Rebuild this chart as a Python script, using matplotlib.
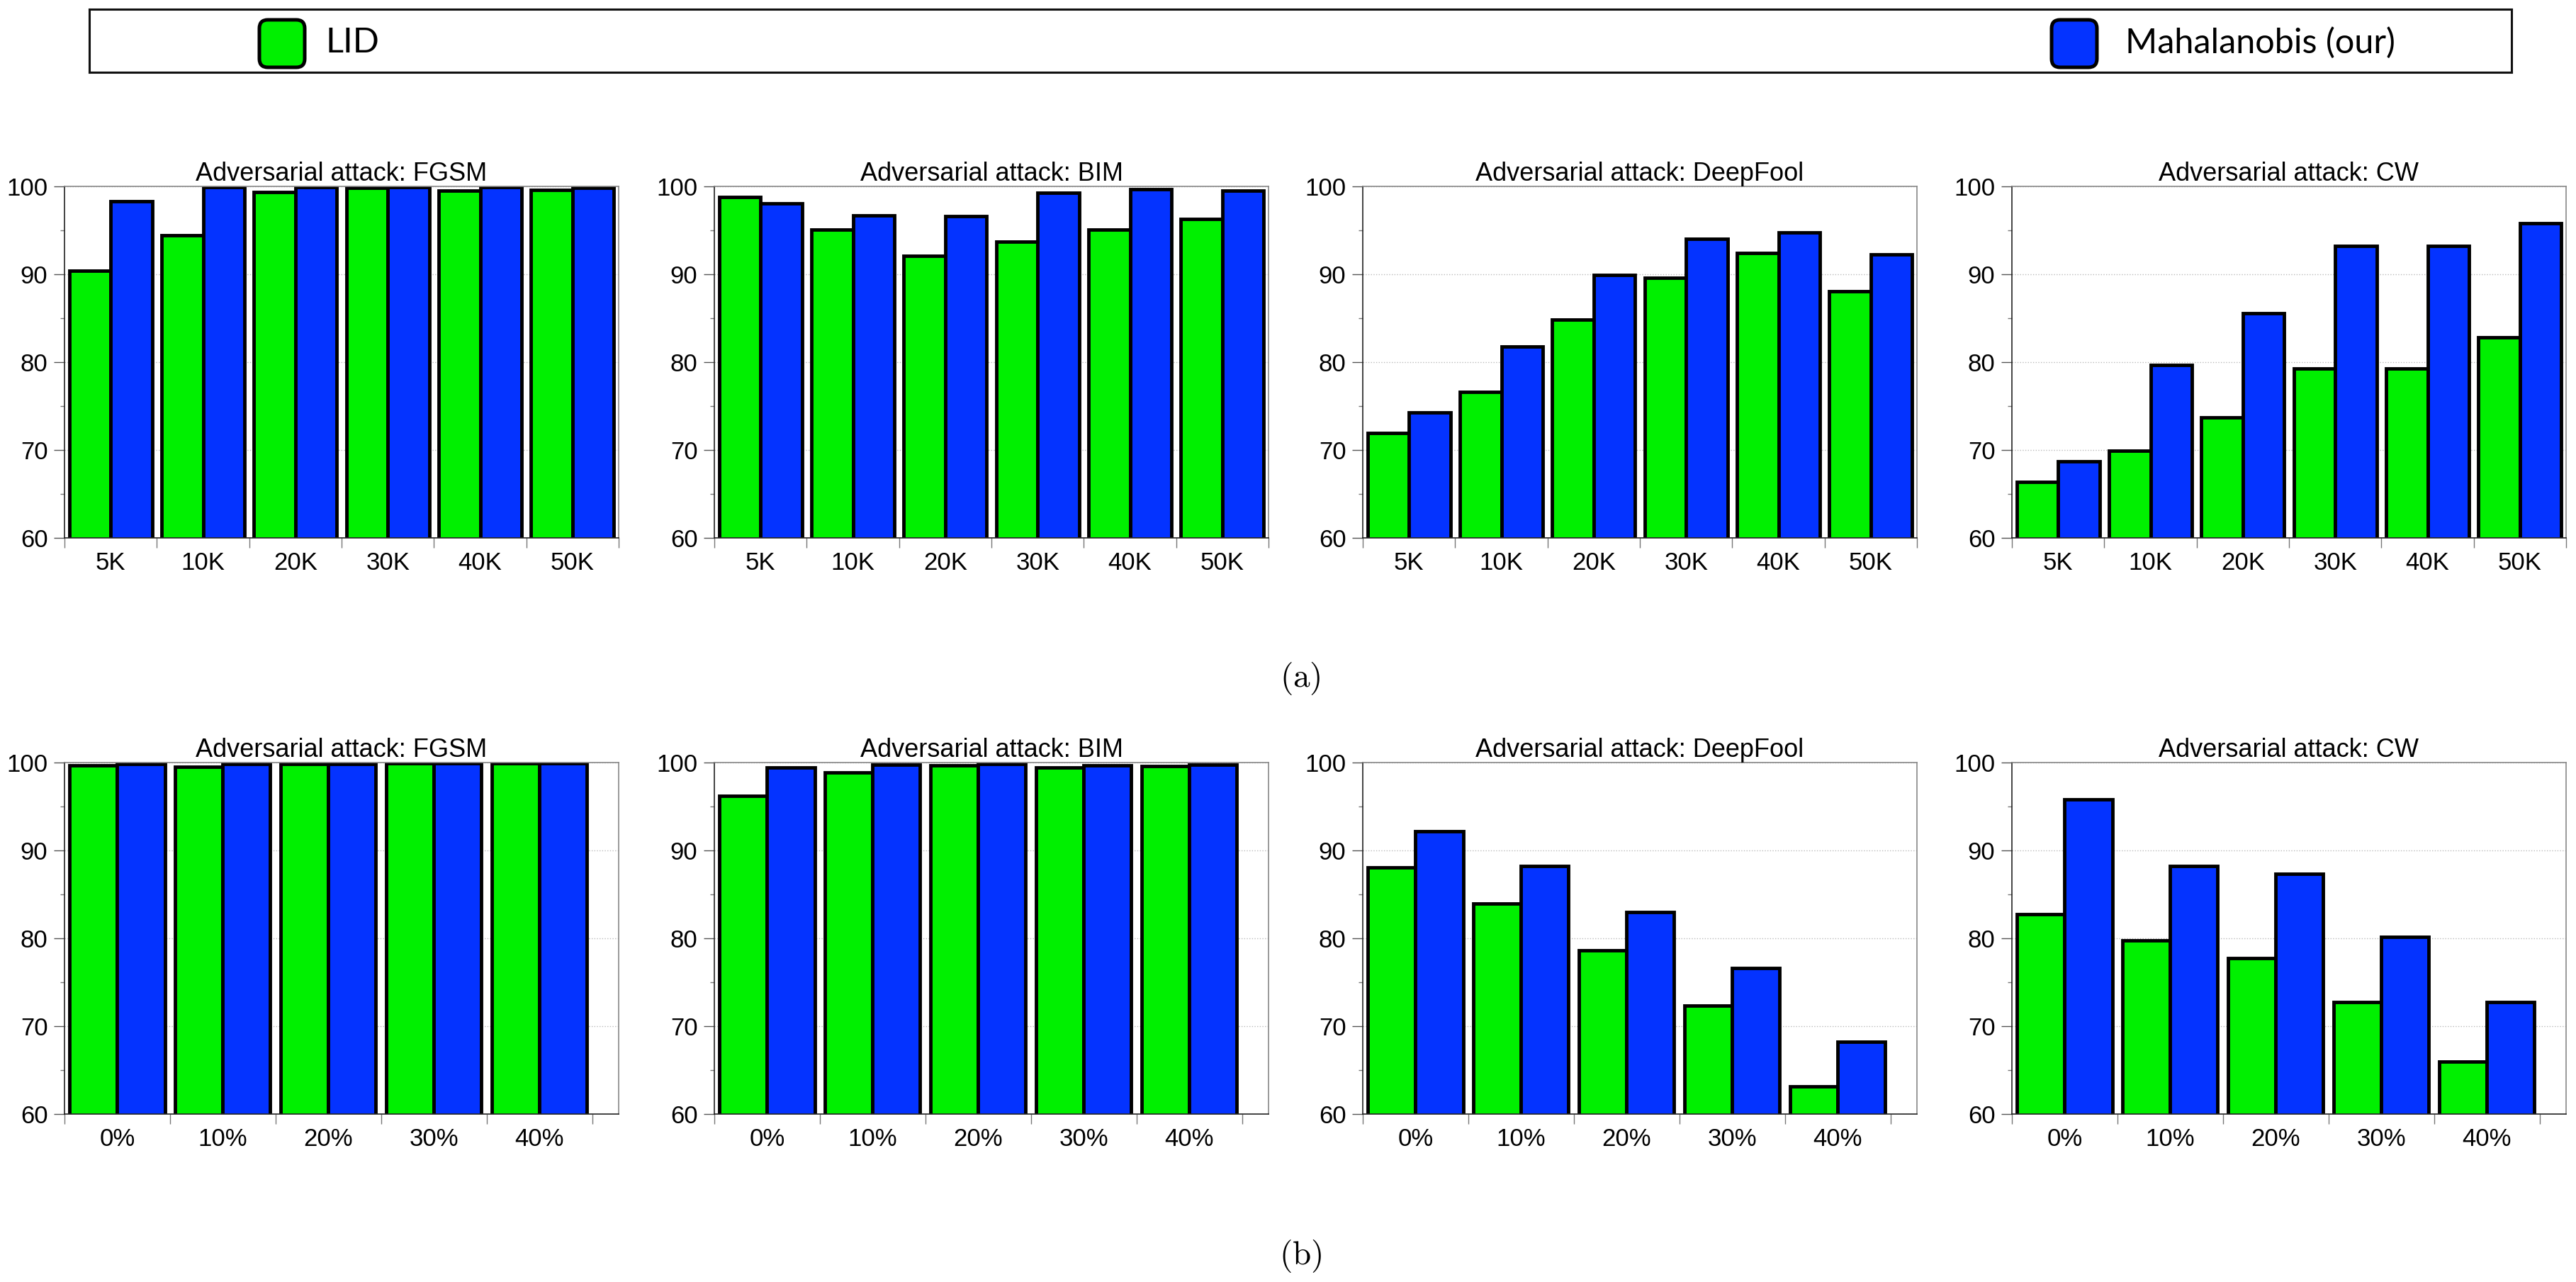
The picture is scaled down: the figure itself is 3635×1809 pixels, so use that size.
import numpy as np
import matplotlib
matplotlib.use('Agg')
import matplotlib.pyplot as plt
from matplotlib.patches import FancyBboxPatch

plt.rcParams['font.family'] = ['Liberation Sans', 'DejaVu Sans']
plt.rcParams['mathtext.fontset'] = 'cm'

# data
attacks = ['FGSM', 'BIM', 'DeepFool', 'CW']
series = ['LID', 'Mahalanobis (our)']
colors = ['#00f000', '#0433ff']

sizes = ['5K', '10K', '20K', '30K', '40K', '50K']
noise = ['0%', '10%', '20%', '30%', '40%']

# (a) varying training size, one row per attack
lid_size = [[90.4, 94.4, 99.35, 99.8, 99.5, 99.6],
            [98.8, 95.1, 92.1, 93.7, 95.1, 96.3],
            [71.9, 76.6, 84.8, 89.6, 92.4, 88.1],
            [66.4, 69.95, 73.75, 79.3, 79.3, 82.8]]
maha_size = [[98.3, 99.9, 99.9, 99.9, 99.9, 99.85],
             [98.1, 96.7, 96.65, 99.3, 99.7, 99.5],
             [74.3, 81.8, 89.9, 94.05, 94.75, 92.25],
             [68.7, 79.65, 85.6, 93.2, 93.2, 95.8]]

# (b) varying noise level
lid_noise = [[99.65, 99.55, 99.85, 99.9, 99.9],
             [96.25, 98.85, 99.7, 99.4, 99.6],
             [88.1, 83.95, 78.65, 72.3, 63.15],
             [82.75, 79.75, 77.75, 72.75, 66.0]]
maha_noise = [[99.85, 99.85, 99.85, 99.9, 99.9],
              [99.45, 99.75, 99.8, 99.7, 99.75],
              [92.2, 88.2, 82.95, 76.6, 68.2],
              [95.8, 88.2, 87.3, 80.15, 72.75]]

W, H = 3635, 1809
fig = plt.figure(figsize=(W / 100, H / 100), dpi=100)
fig.set_facecolor('white')

lefts = [91, 1008, 1923, 2839]
ax_w = 782
rows = [(263, 759, sizes, lid_size, maha_size, 0.0),
        (1076, 1572, noise, lid_noise, maha_noise, 0.25)]

bw = 0.45
for top, bot, labels, lid, maha, extra in rows:
    for k, att in enumerate(attacks):
        ax = fig.add_axes([lefts[k] / W, 1 - bot / H, ax_w / W, (bot - top) / H])
        n = len(labels)
        x = np.arange(n) + 0.5
        ax.bar(x - bw / 2, lid[k], bw, color=colors[0], edgecolor='black', linewidth=3.5)
        ax.bar(x + bw / 2, maha[k], bw, color=colors[1], edgecolor='black', linewidth=3.5)
        ax.set_xlim(0, n + extra)
        ax.set_ylim(60, 100)
        ax.set_yticks(np.arange(60, 101, 10))
        ax.set_yticks(np.arange(65, 100, 10), minor=True)
        ax.set_xticks(np.arange(n + 1))
        ax.set_xticklabels([])
        ax.set_xticks(x, minor=True)
        ax.set_xticklabels(labels, minor=True)
        ax.tick_params(axis='x', which='major', direction='out', length=10, color='#777777', width=1)
        ax.tick_params(axis='x', which='minor', length=0, pad=14, labelsize=25)
        ax.tick_params(axis='y', which='major', direction='out', length=11, color='#555555', width=1,
                       labelsize=25, pad=6)
        ax.tick_params(axis='y', which='minor', direction='out', length=4.5, color='#777777', width=1)
        ax.grid(axis='y', which='major', linestyle=':', color='#bbbbbb', linewidth=1)
        ax.set_axisbelow(True)
        for s in ['left', 'bottom']:
            ax.spines[s].set_color('#222222')
            ax.spines[s].set_linewidth(1.2)
        for s in ['top', 'right']:
            ax.spines[s].set_color('#888888')
            ax.spines[s].set_linewidth(1.2)
        ax.set_title('Adversarial attack: ' + att, fontsize=26, pad=5)

fig.text(1835 / W, 1 - 957 / H, r'$\mathrm{(a)}$', ha='center', va='center', fontsize=34)
fig.text(1835 / W, 1 - 1773 / H, r'$\mathrm{(b)}$', ha='center', va='center', fontsize=34)

# legend box drawn in pixel units
lx0, lx1, ly0, ly1 = 126, 3544, 13, 102
lax = fig.add_axes([lx0 / W, 1 - ly1 / H, (lx1 - lx0) / W, (ly1 - ly0) / H])
lax.set_xlim(0, lx1 - lx0)
lax.set_ylim(0, ly1 - ly0)
lax.set_xticks([])
lax.set_yticks([])
for s in lax.spines.values():
    s.set_linewidth(2.2)
    s.set_color('#111111')
patch_x = [240, 2769]
text_x = [333, 2873]
for name, col, px, tx in zip(series, colors, patch_x, text_x):
    lax.add_patch(FancyBboxPatch((px, 7), 64, 67, boxstyle='round,pad=0,rounding_size=12',
                                 facecolor=col, edgecolor='black', linewidth=3.6))
    lax.text(tx, 42, name, ha='left', va='center', fontsize=35, family=['Lato', 'DejaVu Sans'])

fig.savefig('out.png', dpi=100)
